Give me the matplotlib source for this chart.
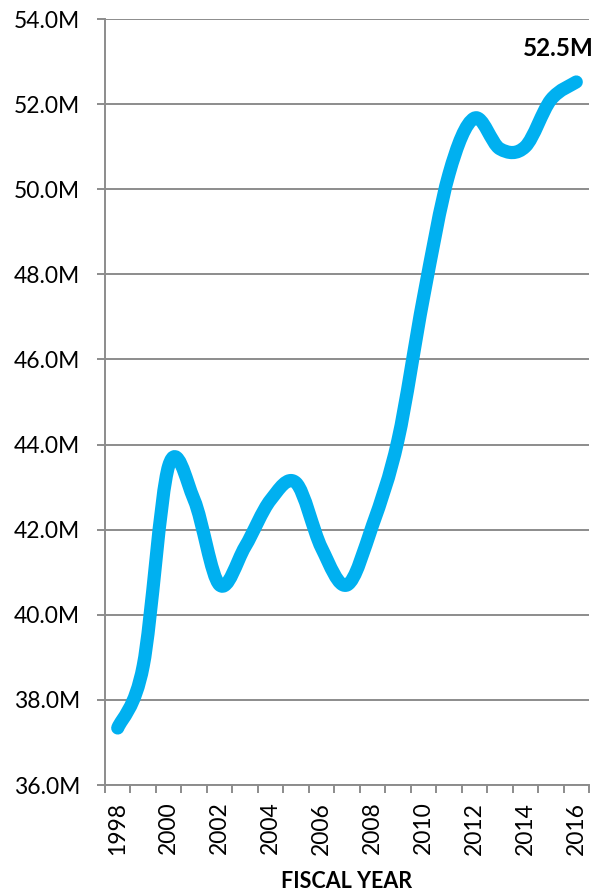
#%%
import numpy as np
import matplotlib
matplotlib.use('Agg')
import matplotlib.pyplot as plt
from matplotlib.path import Path
from matplotlib.patches import PathPatch

# %%
# valores (milhoes)
anos = list(range(1998, 2017))
valores = [37.34, 38.8, 43.5, 42.7, 40.7, 41.6, 42.7, 43.1, 41.57, 40.7,
           42.1, 44.1, 47.45, 50.35, 51.67, 50.95, 51.0, 52.1, 52.52]
rotulo_final = '52.5M'
y_ticks = [36, 38, 40, 42, 44, 46, 48, 50, 52, 54]

# %%
plt.rcParams['font.family'] = ['Lato', 'DejaVu Sans']
cinza = '#8C8C8C'
azul = '#00B0F0'

fig = plt.figure(figsize=(5.97, 8.91), dpi=100)
ax = fig.add_axes([105 / 597, 1 - 785 / 891, 484 / 597, 766 / 891])

# curva suavizada (bezier tipo Excel) passando pelos pontos
x = np.arange(len(anos), dtype=float)
y = np.array(valores)
pts = np.column_stack([x, y])
ext = np.vstack([pts[0], pts, pts[-1]])
verts = [tuple(pts[0])]
codes = [Path.MOVETO]
for i in range(len(pts) - 1):
    p0, p1, p2, p3 = ext[i], ext[i + 1], ext[i + 2], ext[i + 3]
    c1 = p1 + (p2 - p0) / 6
    c2 = p2 - (p3 - p1) / 6
    verts += [tuple(c1), tuple(c2), tuple(p2)]
    codes += [Path.CURVE4] * 3
ax.add_patch(PathPatch(Path(verts, codes), fill=False, edgecolor=azul,
                       linewidth=9.5, capstyle='round', joinstyle='round',
                       zorder=3))

# rotulo do ultimo ponto
ax.annotate(rotulo_final, (x[-1], y[-1]), xytext=(-13, 24),
            textcoords='offset points', ha='center', va='center',
            fontsize=17.5, fontweight='bold', annotation_clip=False)

# eixos
ax.set_xlim(-0.5, len(anos) - 0.5)
ax.set_ylim(36, 54)
ax.set_yticks(y_ticks)
ax.set_yticklabels([f'{v:.1f}M' for v in y_ticks], fontsize=16.5)
ax.yaxis.grid(True, color=cinza, linewidth=1.4)
ax.set_axisbelow(True)
ax.tick_params(axis='y', length=6, width=1.4, color=cinza, pad=12)

ax.set_xticks(np.arange(-0.5, len(anos), 1.0))
ax.set_xticklabels([])
ax.tick_params(axis='x', which='major', length=6, width=1.4, color=cinza)
ax.set_xticks(x[::2], minor=True)
ax.set_xticklabels([str(a) for a in anos[::2]], minor=True, rotation=90,
                   fontsize=16.5)
ax.tick_params(axis='x', which='minor', length=0, pad=12)

for lado in ['top', 'right']:
    ax.spines[lado].set_visible(False)
for lado in ['left', 'bottom']:
    ax.spines[lado].set_color(cinza)
    ax.spines[lado].set_linewidth(1.4)

ax.set_xlabel('FISCAL YEAR', fontsize=15.5, fontweight='bold')
ax.xaxis.set_label_coords(0.5, -0.1266)
ax.xaxis.label.set_va('center')

fig.savefig('out.png', dpi=100)
